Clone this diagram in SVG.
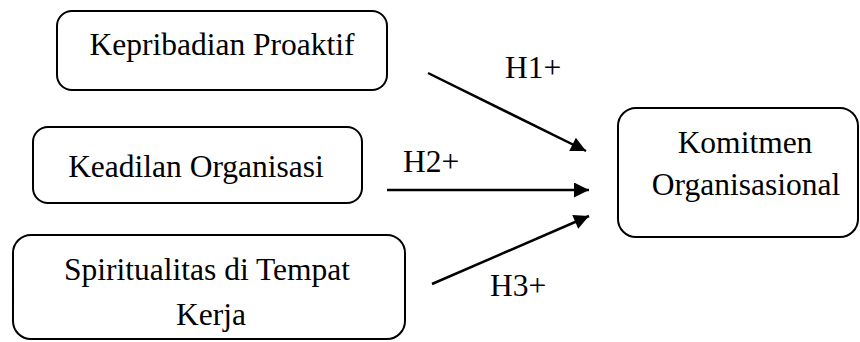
<svg xmlns="http://www.w3.org/2000/svg" width="860" height="342" viewBox="0 0 860 342">
  <style>
    .box { fill: #fff; stroke: #000; stroke-width: 2; }
    .lbl { font-family: "Liberation Serif", "Times New Roman", serif; font-size: 31.5px; fill: #000; }
    .mid { text-anchor: middle; }
    .edge { stroke: #000; stroke-width: 2.5; fill: none; marker-end: url(#head); }
  </style>
  <defs>
    <marker id="head" viewBox="0 0 10 10" refX="10" refY="5" markerUnits="userSpaceOnUse" markerWidth="19" markerHeight="15" orient="auto">
      <path d="M0,0 L10,5 L0,10 Z" fill="#000"/>
    </marker>
  </defs>

  <g id="node-proaktif">
    <rect class="box" x="57" y="11" width="330" height="79" rx="15"/>
    <text class="lbl mid" x="222" y="55">Kepribadian Proaktif</text>
  </g>

  <g id="node-keadilan">
    <rect class="box" x="33" y="127" width="329" height="76" rx="15"/>
    <text class="lbl mid" x="196" y="177">Keadilan Organisasi</text>
  </g>

  <g id="node-spiritualitas">
    <rect class="box" x="13" y="235" width="392" height="104" rx="18"/>
    <text class="lbl mid" x="207" y="280">Spiritualitas di Tempat</text>
    <text class="lbl mid" x="211" y="325">Kerja</text>
  </g>

  <g id="node-komitmen">
    <rect class="box" x="618" y="108" width="240" height="129" rx="18"/>
    <text class="lbl mid" x="745" y="153">Komitmen</text>
    <text class="lbl mid" x="746" y="195">Organisasional</text>
  </g>

  <g id="connectors">
    <line class="edge" x1="428" y1="73" x2="586" y2="151"/>
    <line class="edge" x1="387" y1="190" x2="589" y2="190"/>
    <line class="edge" x1="432" y1="284" x2="589" y2="216"/>
    <text class="lbl" x="505" y="78">H1+</text>
    <text class="lbl" x="403" y="172">H2+</text>
    <text class="lbl" x="490" y="296">H3+</text>
  </g>
</svg>
